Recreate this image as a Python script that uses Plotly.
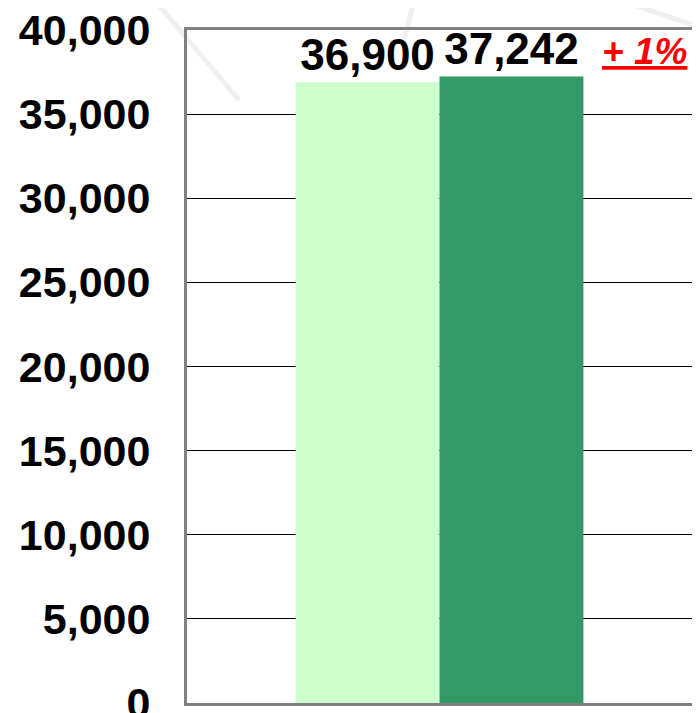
import plotly.graph_objects as go

# values
series_names = ["Previous", "Current"]
series_values = [36900, 37242]
series_colors = ["#CCFFCC", "#339966"]
category = [""]
change_label = "+ 1%"
y_ticks = [0, 5000, 10000, 15000, 20000, 25000, 30000, 35000, 40000]

FONT = "Liberation Sans, Arial, sans-serif"

fig = go.Figure()
for name, val, col in zip(series_names, series_values, series_colors):
    fig.add_trace(go.Bar(
        x=category, y=[val], name=name, marker_color=col, marker_line_width=0,
        texttemplate="%{y:,}", textposition="outside", constraintext="none",
        textfont=dict(family=FONT, size=44, color="black", weight="bold"),
        cliponaxis=False,
    ))

# faint decorative background lines
for x0, y0, x1, y1 in [(-0.065, 1.045, 0.103, 0.896), (0.45, 1.045, 0.43, 0.985),
                       (0.853, 1.045, 1.02, 1.003)]:
    fig.add_shape(type="line", xref="paper", yref="paper", x0=x0, y0=y0, x1=x1, y1=y1,
                  line=dict(color="#f0f0f0", width=5), layer="below")

fig.add_annotation(text="<u><i><b>" + change_label + "</b></i></u>", x=0.905, y=0.968,
                   xref="paper", yref="paper", showarrow=False,
                   xanchor="center", yanchor="middle",
                   font=dict(family=FONT, size=37, color="#FF0000"))

# page body adds a small offset, so figure is a bit smaller than the window
fig.update_layout(
    width=692, height=705,
    margin=dict(l=179, r=8, t=22, b=10),
    barmode="group", bargap=0.43, bargroupgap=0,
    showlegend=False,
    paper_bgcolor="rgba(0,0,0,0)", plot_bgcolor="rgba(0,0,0,0)",
    font=dict(family=FONT, color="black"),
)
fig.update_xaxes(showticklabels=False, showgrid=False, showline=True, mirror=True,
                 linecolor="#808080", linewidth=3, ticks="", automargin=False)
fig.update_yaxes(range=[0, 40000], tickvals=y_ticks, tickformat=",",
                 showgrid=True, gridcolor="black", gridwidth=1, zeroline=False,
                 showline=True, mirror=True, linecolor="#808080", linewidth=3,
                 ticks="inside", ticklen=9, tickcolor="black", ticklabelstandoff=25,
                 ticklabeloverflow="allow", automargin=False,
                 tickfont=dict(family=FONT, size=43, color="black", weight="bold"))

fig.write_html("out.html")
